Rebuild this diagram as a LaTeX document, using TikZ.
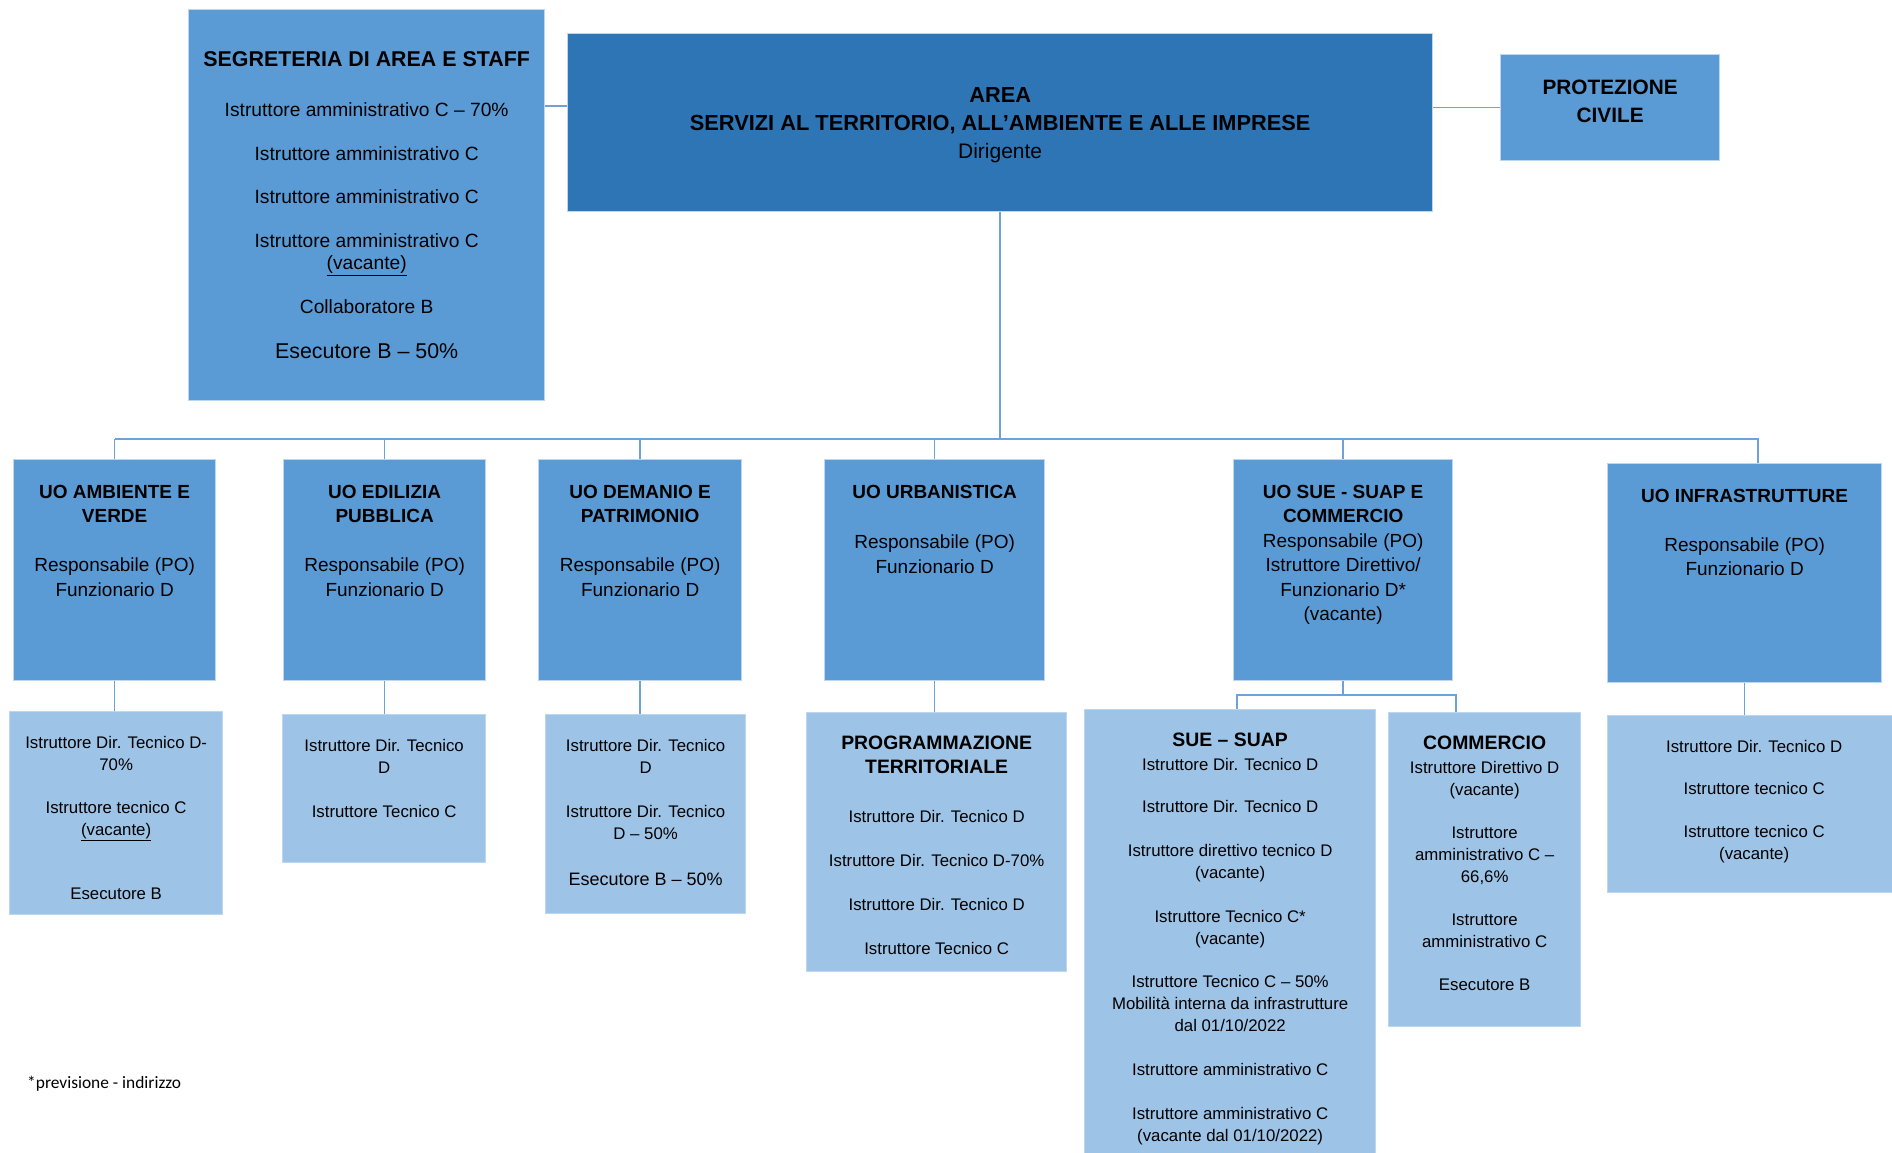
\documentclass[tikz,border=0pt]{standalone}
\usepackage{fontspec}
\setmainfont{Liberation Sans}
\newfontfamily\notefont{Carlito}
\usetikzlibrary{positioning}

\definecolor{areablue}{HTML}{2E75B6}
\definecolor{uoblue}{HTML}{5B9BD5}
\definecolor{subblue}{HTML}{9DC3E6}
\definecolor{lineblue}{HTML}{6FA3D8}
\definecolor{rimblue}{HTML}{BDD7EE}

\newcommand{\subhead}[1]{{\fontsize{19.4}{24}\selectfont\bfseries #1}}

\tikzset{
  box/.style={draw=rimblue, line width=1.3pt, fill=uoblue, inner sep=0pt, anchor=north west},
  topbox/.style={box, fill=areablue},
  subbox/.style={box, fill=subblue},
  uotext/.style={anchor=north, inner sep=0pt, align=center, yshift=-26pt, font=\fontsize{19}{24.5}\selectfont},
  subtext/.style={anchor=north, inner sep=0pt, align=center, yshift=-25pt, font=\fontsize{16.8}{22}\selectfont},
  link/.style={draw=lineblue, line width=1.5pt}
}

\begin{document}
\begin{tikzpicture}[x=1pt, y=-1pt]
		\fill[white] (0,0) rectangle (1892,1153);
		\useasboundingbox (0,0) rectangle (1892,1153);

		% top row
		\node[box, minimum width=356pt, minimum height=391pt, align=center, font=\fontsize{19.2}{22}\selectfont] (seg) at (188,9)
			{{\fontsize{21.4}{26}\selectfont\bfseries SEGRETERIA DI AREA E STAFF}\\[28pt]
			 Istruttore amministrativo C – 70\%\\[22pt]
			 Istruttore amministrativo C\\[21pt]
			 Istruttore amministrativo C\\[22pt]
			 Istruttore amministrativo C\\
			 \underline{(vacante)}\\[22pt]
			 Collaboratore B\\[23pt]
			 {\fontsize{21.4}{26}\selectfont Esecutore B – 50\%}};
		\node[topbox, minimum width=865pt, minimum height=178pt] (area) at (567,33) {};
		\node[inner sep=0pt, align=center, font=\fontsize{21.8}{28}\selectfont, yshift=-3pt] (area-t) at (area.center)
			{\textbf{AREA}\\ \textbf{SERVIZI AL TERRITORIO, ALL'AMBIENTE E ALLE IMPRESE}\\ {\fontsize{21}{28}\selectfont Dirigente}};
		\node[box, minimum width=219pt, minimum height=106pt] (prot) at (1500,54) {};
		\node[inner sep=0pt, align=center, font=\fontsize{20.8}{28}\selectfont\bfseries, yshift=6pt] (prot-t) at (prot.center)
			{PROTEZIONE\\CIVILE};

		% unita' organizzative
		\node[box, minimum width=202pt, minimum height=221pt] (amb) at (13,459) {};
		\node[box, minimum width=202pt, minimum height=221pt] (edi) at (283,459) {};
		\node[box, minimum width=203pt, minimum height=221pt] (dem) at (538,459) {};
		\node[box, minimum width=220pt, minimum height=221pt] (urb) at (824,459) {};
		\node[box, minimum width=219pt, minimum height=221pt] (sue) at (1233,459) {};
		\node[box, minimum width=274pt, minimum height=219pt] (inf) at (1607,463) {};

		\node[uotext] (amb-t) at (amb.north) {\textbf{UO AMBIENTE E}\\\textbf{VERDE}\\[24.5pt]Responsabile (PO)\\Funzionario D};
		\node[uotext] (edi-t) at (edi.north) {\textbf{UO EDILIZIA}\\\textbf{PUBBLICA}\\[24.5pt]Responsabile (PO)\\Funzionario D};
		\node[uotext] (dem-t) at (dem.north) {\textbf{UO DEMANIO E}\\\textbf{PATRIMONIO}\\[24.5pt]Responsabile (PO)\\Funzionario D};
		\node[uotext] (urb-t) at (urb.north) {\textbf{UO URBANISTICA}\\[26pt]Responsabile (PO)\\Funzionario D};
		\node[uotext] (sue-t) at (sue.north) {\textbf{UO SUE - SUAP E}\\\textbf{COMMERCIO}\\Responsabile (PO)\\Istruttore Direttivo/\\Funzionario D*\\(vacante)};
		\node[uotext] (inf-t) at (inf.north) {\textbf{UO INFRASTRUTTURE}\\[24.5pt]Responsabile (PO)\\Funzionario D};

		% uffici
		\node[subbox, minimum width=213pt, minimum height=203pt] (amb-s) at (9,711) {};
		\node[subbox, minimum width=203pt, minimum height=148pt] (edi-s) at (282,714) {};
		\node[subbox, minimum width=200pt, minimum height=199pt] (dem-s) at (545,714) {};
		\node[subbox, minimum width=260pt, minimum height=259pt] (urb-s) at (806,712) {};
		\node[subbox, minimum width=291pt, minimum height=460pt] (suap) at (1084,709) {};
		\node[subbox, minimum width=192pt, minimum height=314pt] (comm) at (1388,712) {};
		\node[subbox, minimum width=293pt, minimum height=177pt] (inf-s) at (1607,715) {};

		\node[subtext] (amb-st) at (amb-s.north) {Istruttore Dir. Tecnico D-\\70\%\\[21pt]Istruttore tecnico C\\\underline{(vacante)}\\[42pt]Esecutore B};
		\node[subtext] (edi-st) at (edi-s.north) {Istruttore Dir. Tecnico\\D\\[22pt]Istruttore Tecnico C};
		\node[subtext] (dem-st) at (dem-s.north) {Istruttore Dir. Tecnico\\D\\[22pt]Istruttore Dir. Tecnico\\D – 50\%\\[24pt]{\fontsize{18}{22}\selectfont Esecutore B – 50\%}};
		\node[subtext, yshift=1pt] (urb-st) at (urb-s.north) {\subhead{PROGRAMMAZIONE}\\[2pt]\subhead{TERRITORIALE}\\[27pt]
			Istruttore Dir. Tecnico D\\[22pt]Istruttore Dir. Tecnico D-70\%\\[22pt]Istruttore Dir. Tecnico D\\[22pt]Istruttore Tecnico C};
		\node[subtext, yshift=1pt] (suap-t) at (suap.north) {\subhead{SUE – SUAP}\\[2pt]
			Istruttore Dir. Tecnico D\\[20pt]Istruttore Dir. Tecnico D\\[22pt]
			Istruttore direttivo tecnico D\\(vacante)\\[22pt]
			Istruttore Tecnico C*\\(vacante)\\[21pt]
			Istruttore Tecnico C – 50\%\\Mobilità interna da infrastrutture\\dal 01/10/2022\\[22pt]
			Istruttore amministrativo C\\[22pt]
			Istruttore amministrativo C\\(vacante dal 01/10/2022)};
		\node[subtext, yshift=1pt] (comm-t) at (comm.north) {\subhead{COMMERCIO}\\[2pt]
			Istruttore Direttivo D\\(vacante)\\[21pt]
			Istruttore\\amministrativo C –\\66,6\%\\[21pt]
			Istruttore\\amministrativo C\\[21pt]
			Esecutore B};
		\node[subtext] (inf-st) at (inf-s.north) {Istruttore Dir. Tecnico D\\[20pt]Istruttore tecnico C\\[21pt]Istruttore tecnico C\\(vacante)};

		\node[anchor=base west, inner sep=0pt, font=\notefont\fontsize{17.4}{20}\selectfont] (note) at (27,1088) {*previsione - indirizzo};

		% connectors
		\coordinate (staffline) at (556,106);
		\coordinate (bus) at (1000,439);
		\coordinate (infdrop) at (1758,439);
		\coordinate (forkl) at (1237,695);
		\coordinate (forkr) at (1456,695);
		\draw[link] (seg.east |- staffline) -- (area.west |- staffline);
		\draw[link] (area.east |- prot.west) -- (prot.west);
		\draw[link] (area.south) -- (area.south |- bus);
		\draw[link] (amb.north |- bus) -- (infdrop) -- (inf.north -| infdrop);
		\foreach \u in {amb,edi,dem,urb,sue}
			\draw[link] (\u.north |- bus) -- (\u.north);
		\foreach \u in {amb,edi,dem,urb,inf}
			\draw[link] (\u.south) -- (\u.south |- \u-s.north);
		\draw[link] (sue.south) -- (sue.south |- forkl);
		\draw[link] (suap.north -| forkl) -- (forkl) -- (forkr) -- (comm.north -| forkr);
\end{tikzpicture}
\end{document}
